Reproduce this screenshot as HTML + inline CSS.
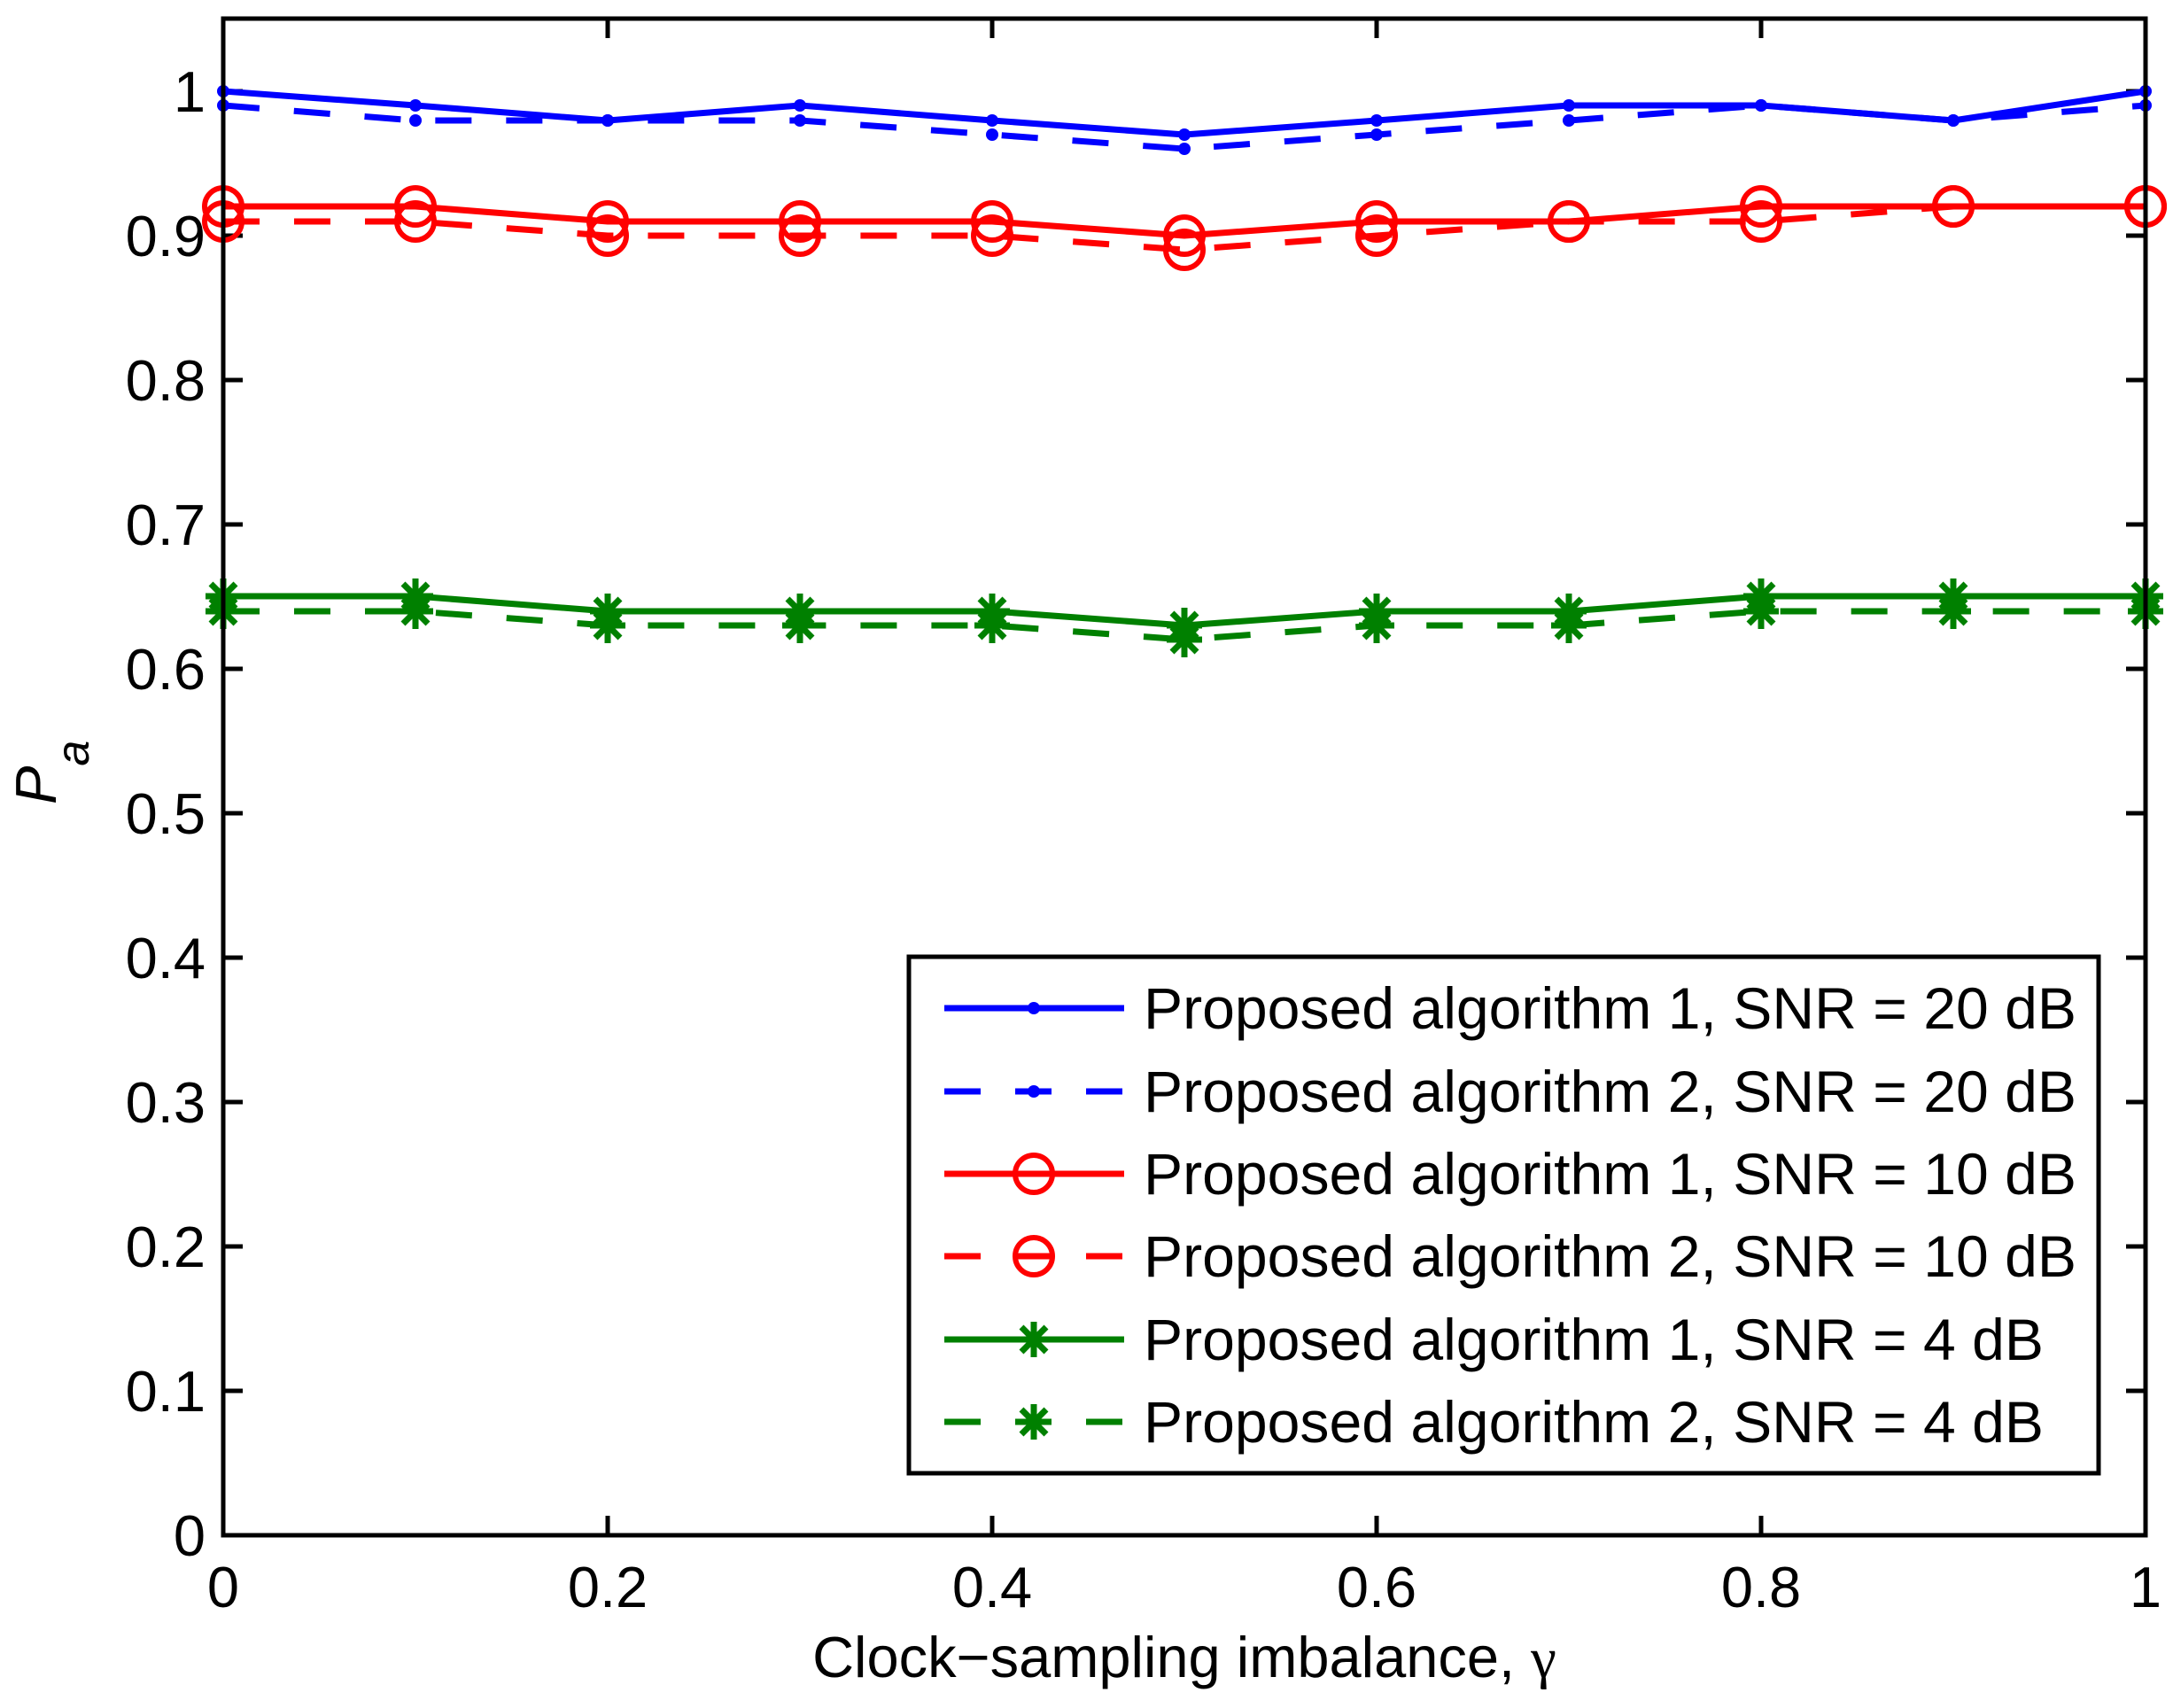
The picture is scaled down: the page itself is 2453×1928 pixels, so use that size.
<!DOCTYPE html>
<html><head><meta charset="utf-8"><style>html,body{margin:0;padding:0;background:#fff}svg{display:block}</style></head>
<body>
<svg width="2453" height="1928" viewBox="0 0 2453 1928" xmlns="http://www.w3.org/2000/svg" font-family="Liberation Sans, Arial, sans-serif">
<rect width="2453" height="1928" fill="#fff"/>
<defs>
<g id="ast" stroke="#008000" stroke-width="7" fill="none"><line x1="0" y1="-20" x2="0" y2="20"/><line x1="-20" y1="0" x2="20" y2="0"/><line x1="-14" y1="-14" x2="14" y2="14"/><line x1="-14" y1="14" x2="14" y2="-14"/></g>
<circle id="circ" r="21" stroke="#ff0000" stroke-width="6" fill="none"/>
<circle id="dot" r="7" fill="#0000ff"/>
</defs>
<g id="ticks" stroke="#000" stroke-width="5">
<line x1="252" y1="1733" x2="252" y2="1711"/><line x1="252" y1="21" x2="252" y2="43"/>
<line x1="686" y1="1733" x2="686" y2="1711"/><line x1="686" y1="21" x2="686" y2="43"/>
<line x1="1120" y1="1733" x2="1120" y2="1711"/><line x1="1120" y1="21" x2="1120" y2="43"/>
<line x1="1554" y1="1733" x2="1554" y2="1711"/><line x1="1554" y1="21" x2="1554" y2="43"/>
<line x1="1988" y1="1733" x2="1988" y2="1711"/><line x1="1988" y1="21" x2="1988" y2="43"/>
<line x1="252" y1="1570" x2="274" y2="1570"/><line x1="2422" y1="1570" x2="2400" y2="1570"/>
<line x1="252" y1="1407" x2="274" y2="1407"/><line x1="2422" y1="1407" x2="2400" y2="1407"/>
<line x1="252" y1="1244" x2="274" y2="1244"/><line x1="2422" y1="1244" x2="2400" y2="1244"/>
<line x1="252" y1="1081" x2="274" y2="1081"/><line x1="2422" y1="1081" x2="2400" y2="1081"/>
<line x1="252" y1="918" x2="274" y2="918"/><line x1="2422" y1="918" x2="2400" y2="918"/>
<line x1="252" y1="755" x2="274" y2="755"/><line x1="2422" y1="755" x2="2400" y2="755"/>
<line x1="252" y1="592" x2="274" y2="592"/><line x1="2422" y1="592" x2="2400" y2="592"/>
<line x1="252" y1="429" x2="274" y2="429"/><line x1="2422" y1="429" x2="2400" y2="429"/>
<line x1="252" y1="266" x2="274" y2="266"/><line x1="2422" y1="266" x2="2400" y2="266"/>
<line x1="252" y1="103" x2="274" y2="103"/><line x1="2422" y1="103" x2="2400" y2="103"/>
</g>
<g font-size="65" fill="#000" text-anchor="end">
<text x="232" y="1756">0</text><text x="232" y="1593">0.1</text><text x="232" y="1430">0.2</text><text x="232" y="1267">0.3</text><text x="232" y="1104">0.4</text><text x="232" y="941">0.5</text><text x="232" y="778">0.6</text><text x="232" y="615">0.7</text><text x="232" y="452">0.8</text><text x="232" y="289">0.9</text><text x="232" y="126">1</text>
</g>
<g font-size="65" fill="#000" text-anchor="middle">
<text x="252" y="1814">0</text><text x="686" y="1814">0.2</text><text x="1120" y="1814">0.4</text><text x="1554" y="1814">0.6</text><text x="1988" y="1814">0.8</text><text x="2422" y="1814">1</text>
<text x="1337" y="1893">Clock−sampling imbalance, <tspan font-family="Liberation Serif, serif">γ</tspan></text>
</g>
<text transform="translate(63,908) rotate(-90)" font-size="65" font-style="italic">P<tspan dy="37" font-size="52">a</tspan></text>

<g fill="none" stroke-width="7" stroke-linejoin="round">
<polyline stroke="#0000ff" points="252,103 469,119 686,136 903,119 1120,136 1337,152 1554,136 1771,119 1988,119 2205,136 2422,103"/>
<polyline stroke="#0000ff" stroke-dasharray="41 39" points="252,119 469,136 686,136 903,136 1120,152 1337,168 1554,152 1771,136 1988,119 2205,136 2422,119"/>
<polyline stroke="#ff0000" points="252,233 469,233 686,250 903,250 1120,250 1337,266 1554,250 1771,250 1988,233 2205,233 2422,233"/>
<polyline stroke="#ff0000" stroke-dasharray="41 39" points="252,250 469,250 686,266 903,266 1120,266 1337,282 1554,266 1771,250 1988,250 2205,233 2422,233"/>
<polyline stroke="#008000" points="252,673 469,673 686,690 903,690 1120,690 1337,706 1554,690 1771,690 1988,673 2205,673 2422,673"/>
<polyline stroke="#008000" stroke-dasharray="41 39" points="252,690 469,690 686,706 903,706 1120,706 1337,722 1554,706 1771,706 1988,690 2205,690 2422,690"/>
</g>
<g>
<use href="#dot" x="252" y="103"/><use href="#dot" x="469" y="119"/><use href="#dot" x="686" y="136"/><use href="#dot" x="903" y="119"/><use href="#dot" x="1120" y="136"/><use href="#dot" x="1337" y="152"/><use href="#dot" x="1554" y="136"/><use href="#dot" x="1771" y="119"/><use href="#dot" x="1988" y="119"/><use href="#dot" x="2205" y="136"/><use href="#dot" x="2422" y="103"/>
<use href="#dot" x="252" y="119"/><use href="#dot" x="469" y="136"/><use href="#dot" x="686" y="136"/><use href="#dot" x="903" y="136"/><use href="#dot" x="1120" y="152"/><use href="#dot" x="1337" y="168"/><use href="#dot" x="1554" y="152"/><use href="#dot" x="1771" y="136"/><use href="#dot" x="1988" y="119"/><use href="#dot" x="2205" y="136"/><use href="#dot" x="2422" y="119"/>
<use href="#circ" x="252" y="233"/><use href="#circ" x="469" y="233"/><use href="#circ" x="686" y="250"/><use href="#circ" x="903" y="250"/><use href="#circ" x="1120" y="250"/><use href="#circ" x="1337" y="266"/><use href="#circ" x="1554" y="250"/><use href="#circ" x="1771" y="250"/><use href="#circ" x="1988" y="233"/><use href="#circ" x="2205" y="233"/><use href="#circ" x="2422" y="233"/>
<use href="#circ" x="252" y="250"/><use href="#circ" x="469" y="250"/><use href="#circ" x="686" y="266"/><use href="#circ" x="903" y="266"/><use href="#circ" x="1120" y="266"/><use href="#circ" x="1337" y="282"/><use href="#circ" x="1554" y="266"/><use href="#circ" x="1771" y="250"/><use href="#circ" x="1988" y="250"/><use href="#circ" x="2205" y="233"/><use href="#circ" x="2422" y="233"/>
<use href="#ast" x="252" y="673"/><use href="#ast" x="469" y="673"/><use href="#ast" x="686" y="690"/><use href="#ast" x="903" y="690"/><use href="#ast" x="1120" y="690"/><use href="#ast" x="1337" y="706"/><use href="#ast" x="1554" y="690"/><use href="#ast" x="1771" y="690"/><use href="#ast" x="1988" y="673"/><use href="#ast" x="2205" y="673"/><use href="#ast" x="2422" y="673"/>
<use href="#ast" x="252" y="690"/><use href="#ast" x="469" y="690"/><use href="#ast" x="686" y="706"/><use href="#ast" x="903" y="706"/><use href="#ast" x="1120" y="706"/><use href="#ast" x="1337" y="722"/><use href="#ast" x="1554" y="706"/><use href="#ast" x="1771" y="706"/><use href="#ast" x="1988" y="690"/><use href="#ast" x="2205" y="690"/><use href="#ast" x="2422" y="690"/>
</g>
<rect x="252" y="21" width="2170" height="1712" fill="none" stroke="#000" stroke-width="5"/>

<rect x="1026" y="1080" width="1343" height="583" fill="#fff" stroke="#000" stroke-width="5"/>
<g stroke-width="7" fill="none">
<line x1="1066" y1="1138" x2="1269" y2="1138" stroke="#0000ff"/>
<line x1="1066" y1="1232" x2="1269" y2="1232" stroke="#0000ff" stroke-dasharray="41 39"/>
<line x1="1066" y1="1325" x2="1269" y2="1325" stroke="#ff0000"/>
<line x1="1066" y1="1418" x2="1269" y2="1418" stroke="#ff0000" stroke-dasharray="41 39"/>
<line x1="1066" y1="1512" x2="1269" y2="1512" stroke="#008000"/>
<line x1="1066" y1="1605" x2="1269" y2="1605" stroke="#008000" stroke-dasharray="41 39"/>
</g>
<use href="#dot" x="1167" y="1138"/><use href="#dot" x="1167" y="1232"/>
<use href="#circ" x="1167" y="1325"/><use href="#circ" x="1167" y="1418"/>
<use href="#ast" x="1167" y="1512"/><use href="#ast" x="1167" y="1605"/>
<g font-size="66" fill="#000">
<text x="1291" y="1161" textLength="1053" lengthAdjust="spacingAndGlyphs">Proposed algorithm 1, SNR = 20 dB</text>
<text x="1291" y="1255" textLength="1053" lengthAdjust="spacingAndGlyphs">Proposed algorithm 2, SNR = 20 dB</text>
<text x="1291" y="1348" textLength="1053" lengthAdjust="spacingAndGlyphs">Proposed algorithm 1, SNR = 10 dB</text>
<text x="1291" y="1441" textLength="1053" lengthAdjust="spacingAndGlyphs">Proposed algorithm 2, SNR = 10 dB</text>
<text x="1291" y="1535" textLength="1016" lengthAdjust="spacingAndGlyphs">Proposed algorithm 1, SNR = 4 dB</text>
<text x="1291" y="1628" textLength="1016" lengthAdjust="spacingAndGlyphs">Proposed algorithm 2, SNR = 4 dB</text>
</g>
</svg>
</body></html>
